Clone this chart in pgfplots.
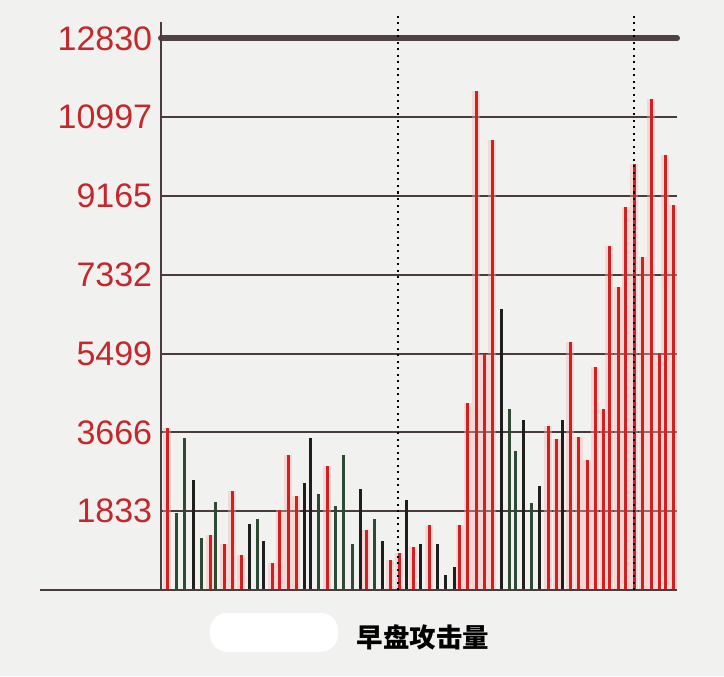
\documentclass[border=0pt]{standalone}
\usepackage{pgfplots}
\pgfplotsset{compat=1.18}
\usepackage{pgfplotstable}
\usepackage{fontspec}
\usetikzlibrary{backgrounds}
\newfontfamily\lab{Liberation Sans}
\newfontfamily\cjk{Noto Sans CJK SC}
\definecolor{barred}{HTML}{D21F1F}
\definecolor{bargreen}{HTML}{2C4A34}
\definecolor{barblack}{HTML}{1E1E1E}
\definecolor{gridc}{HTML}{4A3C3C}
\definecolor{topline}{HTML}{4F4245}
\definecolor{tickred}{HTML}{C4282C}
\definecolor{bgc}{HTML}{F1F1EF}
\definecolor{halo}{HTML}{F6B4B0}

\pgfplotstableread{
x y
167.3 3760
210.3 1268
224.3 1081
232.3 2295
241 810
272 623
279.7 1868
288 3145
296.3 2179
327 2879
366 1401
390.3 700
399 857
413.3 1004
429 1518
459.7 1518
467.7 4360
476 11596
484.3 5499
492.3 10456
548 3809
556.7 3507
570.3 5762
578.7 3562
587 3028
595.3 5180
603.7 4200
609.3 7993
618 7037
625.7 8902
634 9906
642.7 7747
651 11420
659.3 5523
665.3 10122
673.3 8966
}\redbars

\pgfplotstableread{
x y
176.7 1782
185 3542
201.7 1207
215.7 2048
257.3 1658
318.3 2235
335.3 1961
343.3 3129
352 1081
374 1650
509 4208
515.3 3244
531.3 2032
}\greenbars

\pgfplotstableread{
x y
193.3 2561
249.3 1534
263.7 1151
304.3 2498
310.7 3542
360 2351
382.3 1137
406.7 2101
420.7 1081
437.7 1074
445.7 358
454 544
501 6535
523.3 3961
539.7 2415
562.3 3961
}\blackbars

\begin{document}
\begin{tikzpicture}
\begin{axis}[
  scale only axis,
  width=206.4pt, height=227.2pt,
  xmin=161, xmax=677, ymin=0, ymax=13212,
  clip=false,
  scaled y ticks=false,
  axis line style={draw=none},
  xtick=\empty,
  ytick={1833,3666,5499,7332,9165,10997},
  yticklabels={1833,3666,5499,7332,9165,10997},
  extra y ticks={12830},
  extra y tick labels={12830},
  extra y tick style={grid style={line width=2.4pt, color=topline, line cap=round}},
  ymajorgrids,
  grid style={line width=0.8pt, color=gridc},
  tick style={draw=none},
  yticklabel style={font=\lab\fontsize{13.6}{14}\selectfont, text=tickred, anchor=east},
]
\addplot[ycomb, no marks, line width=3.2pt, color=halo, opacity=0.4] table {\redbars};
\addplot[ycomb, no marks, line width=1.2pt, color=barred] table {\redbars};
\addplot[ycomb, no marks, line width=1.2pt, color=bargreen] table {\greenbars};
\addplot[ycomb, no marks, line width=1.2pt, color=barblack] table {\blackbars};
% axes lines
\draw[line width=0.8pt, color=gridc] (axis cs:161,0) -- (axis cs:161,13212);
\draw[line width=0.8pt, color=gridc] (axis cs:40,0) -- (axis cs:677,0);
% dotted vertical lines
\draw[line width=0.6pt, color=black, dash pattern=on 0.8pt off 1.8pt] (axis cs:398,0) -- (axis cs:398,13375);
\draw[line width=0.6pt, color=black, dash pattern=on 0.8pt off 1.8pt] (axis cs:634,0) -- (axis cs:634,13375);
% redaction blob and label
\fill[white, rounded corners=7pt] (axis cs:210,-530) rectangle (axis cs:338,-1440);
\node[font=\cjk\bfseries\fontsize{10.6}{12}\selectfont, text=black] at (axis cs:423,-1093) {早盘攻击量};
\coordinate (bgSW) at (axis cs:0,-2000.5);
\coordinate (bgNE) at (axis cs:724,13724);
\end{axis}
\begin{scope}[on background layer]
\fill[bgc] (bgSW) rectangle (bgNE);
\end{scope}
\end{tikzpicture}
\end{document}
